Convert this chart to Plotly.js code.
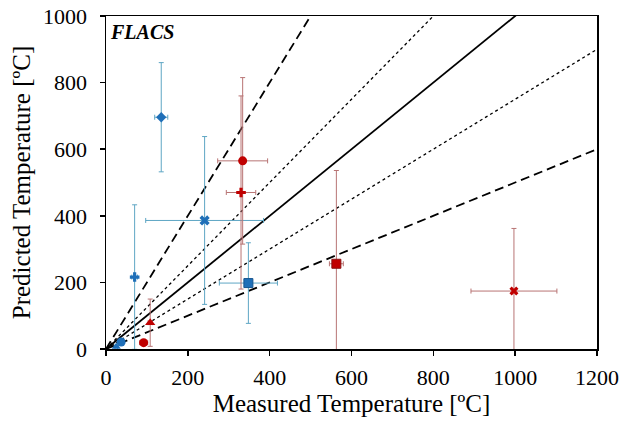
<!DOCTYPE html>
<html>
<head>
<meta charset="utf-8">
<script src="https://cdn.plot.ly/plotly-3.0.1.min.js"></script>
<style>html,body{margin:0;padding:0;background:#fff;}#chart{width:636px;height:423px;}</style>
</head>
<body>
<div id="chart"></div>
<script>
// Blue series (measured vs predicted)
var blueX    = [135, 70, 241, 348, 37, 25];
var blueY    = [696, 216, 386, 198, 21, 7];
var blueXErr = [16, 7, 144, 71, 4, 3];
var blueYErr = [164, 217, 252, 121, 4, 3];
var blueSym  = ['diamond', 'cross', 'x', 'square', 'circle', 'triangle-up'];

// Red series
var redX    = [334, 330, 108, 92, 563, 997];
var redY    = [565, 470, 79, 19, 256, 174];
var redXErr = [61, 36, 5, 10, 17, 105];
var redYErr = [250, 290, 71, 6, 280, 188];
var redSym  = ['circle', 'cross', 'triangle-up', 'circle', 'square', 'x'];

// Reference lines (slopes)
var refSlopes = [2, 0.5, 1, 1.25, 0.75];
var refDash   = ['dash', 'dash', 'solid', 'dot', 'dot'];
var refX = [0, 1200];

var traces = [];
refSlopes.forEach(function(s, i){
  traces.push({
    x: refX, y: refX.map(function(v){return v*s;}),
    mode: 'lines', hoverinfo: 'skip', showlegend: false,
    line: {color: '#000', width: refDash[i]==='dot' ? 1.3 : 1.8, dash: refDash[i]==='dash' ? '9px,5px' : refDash[i]}
  });
});

traces.push({
  x: blueX, y: blueY, mode: 'markers', showlegend: false,
  marker: {symbol: blueSym, size: [8, 8, 9, 9, 9, 8], color: '#1f6fb8', opacity: 1,
           line: {color: '#17558f', width: [0, 0, 0, 1, 0, 0]}},
  error_x: {type: 'data', array: blueXErr, color: '#5ea6c4', thickness: 1, width: 2.5},
  error_y: {type: 'data', array: blueYErr, color: '#5ea6c4', thickness: 1, width: 2.5}
});
traces.push({
  x: redX, y: redY, mode: 'markers', showlegend: false,
  marker: {symbol: redSym, size: [9, 8, 9, 9, 9, 8], color: '#c00000', opacity: 1,
           line: {color: '#8a1010', width: [0, 0, 0, 0, 1, 0]}},
  error_x: {type: 'data', array: redXErr, color: '#b87474', thickness: 1, width: 2.5},
  error_y: {type: 'data', array: redYErr, color: '#b87474', thickness: 1, width: 2.5}
});

var fontFam = '"Liberation Serif", "Times New Roman", serif';
var layout = {
  width: 636, height: 423,
  margin: {l: 105.5, r: 39.3, t: 15.7, b: 74},
  paper_bgcolor: '#fff', plot_bgcolor: '#fff',
  font: {family: fontFam, color: '#000'},
  xaxis: {
    range: [0, 1200], dtick: 200, tick0: 0,
    showgrid: false, zeroline: false,
    showline: true, linecolor: '#000', linewidth: 1.5, mirror: true,
    ticks: 'outside', ticklen: 5, tickwidth: 1.5, tickcolor: '#000',
    ticklabelstandoff: 3,
    tickfont: {family: fontFam, size: 22, color: '#000'},
    title: {text: 'Measured Temperature [ºC]', font: {family: fontFam, size: 25, color: '#000'}, standoff: 0}
  },
  yaxis: {
    range: [0, 1000], dtick: 200, tick0: 0,
    showgrid: false, zeroline: false,
    showline: true, linecolor: '#000', linewidth: 1.5, mirror: true,
    ticks: 'outside', ticklen: 5, tickwidth: 1.5, tickcolor: '#000',
    ticklabelstandoff: 8,
    tickfont: {family: fontFam, size: 22, color: '#000'},
    title: {text: 'Predicted Temperature [ºC]', font: {family: fontFam, size: 25, color: '#000'}, standoff: 5}
  },
  annotations: [{
    text: '<b><i>FLACS</i></b>', xref: 'paper', yref: 'paper', x: 0.005, y: 0.99,
    xanchor: 'left', yanchor: 'top', showarrow: false,
    font: {family: fontFam, size: 20, color: '#000'}
  }]
};

Plotly.newPlot('chart', traces, layout, {displayModeBar: false, staticPlot: true});
</script>
</body>
</html>
